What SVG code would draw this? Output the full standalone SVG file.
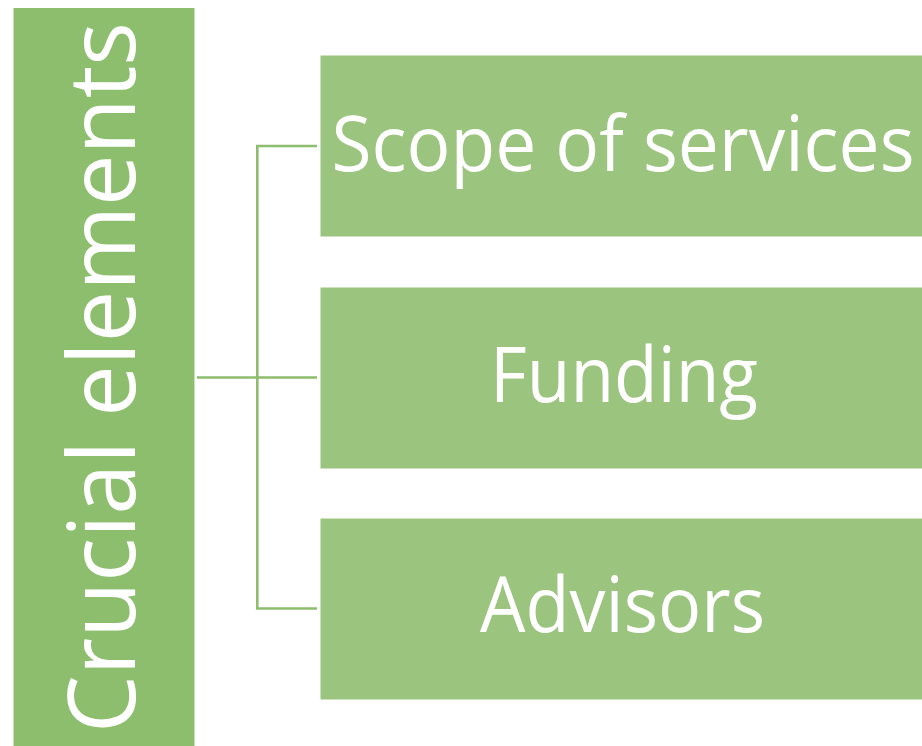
<svg xmlns="http://www.w3.org/2000/svg" width="922" height="746" viewBox="0 0 922 746">
  <style>
    .main { fill: #8dbe6e; stroke: #ffffff; stroke-width: 1; }
    .sub { fill: #9bc47f; stroke: #ffffff; stroke-width: 1; }
    .lbl { font-family: "Open Sans", "Noto Sans", sans-serif; fill: #ffffff; text-anchor: middle; }
    .conn { fill: none; stroke: #8dbd6d; stroke-width: 2.6; }
  </style>
  <rect x="0" y="0" width="922" height="746" fill="#ffffff"/>
  <g id="connectors">
    <path class="conn" d="M197,377.5 H257.3"/>
    <path class="conn" d="M317,146 H257.3 V608.5 H317"/>
    <path class="conn" d="M257.3,377.5 H317"/>
  </g>
  <g id="node-crucial">
    <rect class="main" x="13" y="7.5" width="182" height="740"/>
    <text class="lbl" transform="translate(135,377.5) rotate(-90)" x="0" y="0" font-size="94" textLength="711" lengthAdjust="spacingAndGlyphs">Crucial elements</text>
  </g>
  <g id="node-scope">
    <rect class="sub" x="320" y="55" width="604" height="182"/>
    <text class="lbl" x="623" y="171" font-size="77" textLength="583" lengthAdjust="spacingAndGlyphs">Scope of services</text>
  </g>
  <g id="node-funding">
    <rect class="sub" x="320" y="287" width="604" height="182"/>
    <text class="lbl" x="624" y="402" font-size="77" textLength="268" lengthAdjust="spacingAndGlyphs">Funding</text>
  </g>
  <g id="node-advisors">
    <rect class="sub" x="320" y="518" width="604" height="182"/>
    <text class="lbl" x="622.5" y="632" font-size="77" textLength="285" lengthAdjust="spacingAndGlyphs">Advisors</text>
  </g>
</svg>
